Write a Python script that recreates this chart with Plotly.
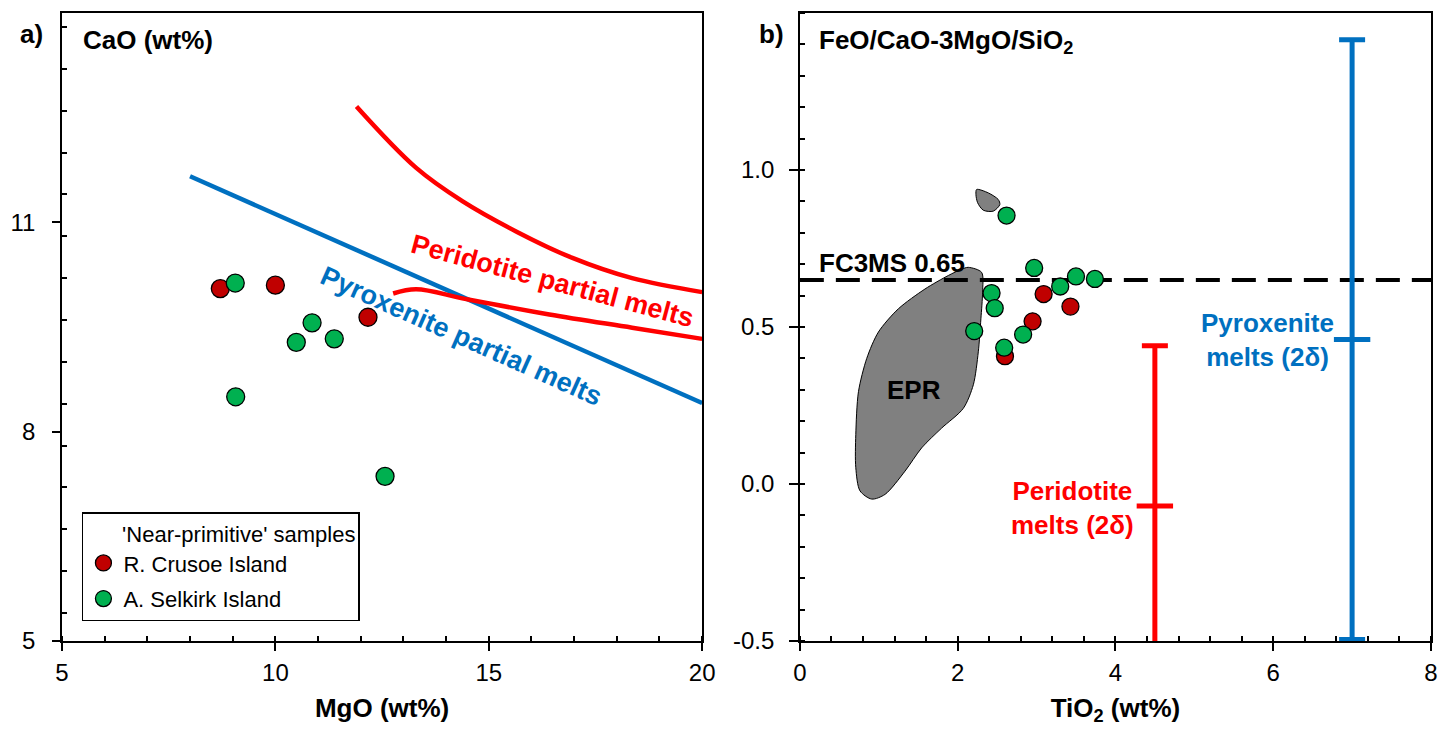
import plotly.graph_objects as go

# ---------------- Panel a data ----------------
rc_mgo = [8.71, 10.0, 12.17]
rc_cao = [10.05, 10.10, 9.64]
as_mgo = [9.06, 10.86, 10.49, 11.38, 9.07, 12.57]
as_cao = [10.13, 9.56, 9.28, 9.33, 8.50, 7.36]

pyx_mgo = [8.0, 20.0]
pyx_cao = [11.66, 8.41]

per_up_mgo = [11.9, 13.3, 14.39, 15.64, 16.96, 18.36, 20.0]
per_up_cao = [12.66, 11.78, 11.30, 10.87, 10.49, 10.20, 10.0]
per_lo_mgo = [12.76, 13.3, 14.47, 16.42, 18.36, 20.0]
per_lo_cao = [9.98, 10.04, 9.90, 9.68, 9.49, 9.33]

# ---------------- Panel b data ----------------
rc_tio2 = [3.09, 3.43, 2.95, 2.60]
rc_fc3ms = [0.605, 0.565, 0.518, 0.407]
as_tio2 = [2.62, 2.97, 3.50, 3.74, 3.30, 2.43, 2.47, 2.83, 2.21, 2.59]
as_fc3ms = [0.855, 0.688, 0.661, 0.653, 0.629, 0.608, 0.560, 0.476, 0.487, 0.434]

epr_tio2 = [2.135, 2.304, 2.316, 2.295, 2.262, 2.199, 2.072, 1.797, 1.544, 1.333,
            1.080, 0.911, 0.763, 0.709, 0.709, 0.743, 0.848, 0.996, 1.249, 1.586,
            1.882, 2.051, 2.135]
epr_fc3ms = [0.690, 0.674, 0.611, 0.526, 0.421, 0.316, 0.241, 0.178, 0.115, 0.041,
             -0.033, -0.048, -0.022, 0.052, 0.157, 0.294, 0.400, 0.484, 0.558, 0.621,
             0.664, 0.684, 0.690]
blob_tio2 = [2.241, 2.389, 2.515, 2.535, 2.452, 2.325, 2.253, 2.232, 2.241]
blob_fc3ms = [0.938, 0.927, 0.906, 0.890, 0.869, 0.872, 0.896, 0.922, 0.938]

fc3ms_threshold = 0.65
per_bar_x, per_bar_y, per_bar_err = 4.5, -0.07, 0.51
pyx_bar_x, pyx_bar_y, pyx_bar_err = 7.0, 0.46, 0.955

a_yticks = [5, 8, 11]
a_xticks = [5, 10, 15, 20]
b_yticks = [-0.5, 0.0, 0.5, 1.0]
b_yticktext = ["-0.5", "0.0", "0.5", "1.0"]
b_xticks = [0, 2, 4, 6, 8]

RED_PT = "#C00000"
GREEN_PT = "#00B050"
RED = "#FF0000"
BLUE = "#0070C0"
FONT = "Liberation Sans, Arial, sans-serif"

fig = go.Figure()

# Panel a lines
fig.add_trace(go.Scatter(x=pyx_mgo, y=pyx_cao, mode="lines", line=dict(color=BLUE, width=4.5),
                         showlegend=False, xaxis="x", yaxis="y"))
fig.add_trace(go.Scatter(x=per_up_mgo, y=per_up_cao, mode="lines",
                         line=dict(color=RED, width=4.5, shape="spline"),
                         showlegend=False, xaxis="x", yaxis="y"))
fig.add_trace(go.Scatter(x=per_lo_mgo, y=per_lo_cao, mode="lines",
                         line=dict(color=RED, width=4.5, shape="spline"),
                         showlegend=False, xaxis="x", yaxis="y"))

mk_red = dict(color=RED_PT, size=18, line=dict(color="black", width=1.3))
mk_green = dict(color=GREEN_PT, size=18, line=dict(color="black", width=1.3))

fig.add_trace(go.Scatter(x=rc_mgo, y=rc_cao, mode="markers", marker=mk_red,
                         name="R. Crusoe Island", legendgroup="rc", xaxis="x", yaxis="y"))
fig.add_trace(go.Scatter(x=as_mgo, y=as_cao, mode="markers", marker=mk_green,
                         name="A. Selkirk Island", legendgroup="as", xaxis="x", yaxis="y"))

# Panel b
fig.add_trace(go.Scatter(x=epr_tio2, y=epr_fc3ms, mode="lines", fill="toself",
                         fillcolor="#808080", line=dict(color="black", width=1, shape="spline", smoothing=0.8),
                         showlegend=False, xaxis="x2", yaxis="y2"))
fig.add_trace(go.Scatter(x=blob_tio2, y=blob_fc3ms, mode="lines", fill="toself",
                         fillcolor="#808080", line=dict(color="black", width=1, shape="spline", smoothing=0.8),
                         showlegend=False, xaxis="x2", yaxis="y2"))
fig.add_trace(go.Scatter(x=[0, 8], y=[fc3ms_threshold, fc3ms_threshold], mode="lines",
                         line=dict(color="black", width=4, dash="24px,12px"),
                         showlegend=False, xaxis="x2", yaxis="y2"))

fig.add_trace(go.Scatter(x=rc_tio2, y=rc_fc3ms, mode="markers", marker=dict(mk_red, size=17),
                         showlegend=False, xaxis="x2", yaxis="y2"))
fig.add_trace(go.Scatter(x=as_tio2, y=as_fc3ms, mode="markers", marker=dict(mk_green, size=17),
                         showlegend=False, xaxis="x2", yaxis="y2"))

fig.add_trace(go.Scatter(x=[per_bar_x], y=[per_bar_y], mode="markers",
                         marker=dict(symbol="line-ew-open", size=26, color=RED, line=dict(color=RED, width=5)),
                         error_y=dict(type="data", array=[per_bar_err], color=RED, thickness=5, width=13),
                         showlegend=False, xaxis="x2", yaxis="y2"))
fig.add_trace(go.Scatter(x=[pyx_bar_x], y=[pyx_bar_y], mode="markers",
                         marker=dict(symbol="line-ew-open", size=26, color=BLUE, line=dict(color=BLUE, width=5)),
                         error_y=dict(type="data", array=[pyx_bar_err], color=BLUE, thickness=5, width=13),
                         showlegend=False, xaxis="x2", yaxis="y2"))

L, R, T, B = 58, 24, 11, 90
W, H = 1455, 731
PW = W - L - R
PH = H - T - B
def px(xp):
    return (xp - L) / PW
def py(yp):
    return (H - B - yp) / PH

axis_common = dict(showgrid=False, zeroline=False, showline=True, linecolor="black", linewidth=1.5,
                   mirror=True, ticks="outside", ticklen=8, tickwidth=1.5, tickcolor="black",
                   tickfont=dict(family=FONT, size=24, color="black"))

fig.update_layout(
    width=W, height=H,
    margin=dict(l=L, r=R, t=T, b=B),
    paper_bgcolor="white", plot_bgcolor="white",
    font=dict(family=FONT, color="black"),
    xaxis=dict(axis_common, domain=[0, px(700)], range=[5, 20], tickvals=a_xticks,
               minor=dict(dtick=1, ticks="inside", ticklen=5, tickwidth=1.5, tickcolor="black"),
               title=dict(text="<b>MgO (wt%)</b>", font=dict(size=26, family=FONT), standoff=14),
               ticklabelstandoff=1),
    yaxis=dict(axis_common, domain=[0, 1], range=[5, 14], tickvals=a_yticks,
               minor=dict(dtick=0.6, ticks="inside", ticklen=5, tickwidth=1.5, tickcolor="black"),
               ticklabelstandoff=12),
    xaxis2=dict(axis_common, domain=[px(798), 1], range=[0, 8], tickvals=b_xticks, anchor="y2",
                minor=dict(dtick=0.4, ticks="inside", ticklen=5, tickwidth=1.5, tickcolor="black"),
                title=dict(text="<b>TiO<sub>2</sub> (wt%)</b>", font=dict(size=26, family=FONT), standoff=14),
                ticklabelstandoff=1),
    yaxis2=dict(axis_common, domain=[0, 1], range=[-0.5, 1.5], tickvals=b_yticks, ticktext=b_yticktext,
                anchor="x2", ticklen=9,
                minor=dict(dtick=0.1, ticks="inside", ticklen=5, tickwidth=1.5, tickcolor="black"),
                ticklabelstandoff=10),
    legend=dict(x=px(78), y=py(621), xanchor="left", yanchor="bottom",
                bgcolor="white", bordercolor="black", borderwidth=1.5,
                font=dict(family=FONT, size=22, color="black"),
                title=dict(text="      'Near-primitive' samples", font=dict(family=FONT, size=22)),
                itemwidth=30, tracegroupgap=4),
)

ann = []
def add(text, x, y, size=26, color="black", xref="paper", yref="paper", xanchor="center",
        yanchor="middle", angle=0):
    ann.append(dict(text=text, x=x, y=y, xref=xref, yref=yref, xanchor=xanchor, yanchor=yanchor,
                    showarrow=False, textangle=angle,
                    font=dict(family=FONT, size=size, color=color)))

add("<b>a)</b>", px(27), py(32))
add("<b>b)</b>", px(770), py(32))
add("<b>CaO (wt%)</b>", px(77), py(38), xanchor="left")
add("<b>FeO/CaO-3MgO/SiO<sub>2</sub></b>", px(815), py(40), xanchor="left")
add("<b>Peridotite partial melts</b>", 16.5, 10.16, size=27, color=RED, xref="x", yref="y", angle=15)
add("<b>Pyroxenite partial melts</b>", 14.35, 9.37, size=27, color=BLUE, xref="x", yref="y", angle=24)
add("<b>FC3MS 0.65</b>", 1.165, 0.705, xref="x2", yref="y2")
add("<b>EPR</b>", 1.45, 0.30, xref="x2", yref="y2")
add("<b>Peridotite<br>melts (2δ)</b>", 3.46, -0.075, color=RED, xref="x2", yref="y2")
add("<b>Pyroxenite<br>melts (2δ)</b>", 5.93, 0.46, color=BLUE, xref="x2", yref="y2")
fig.update_layout(annotations=ann)

fig.write_html("out.html")
